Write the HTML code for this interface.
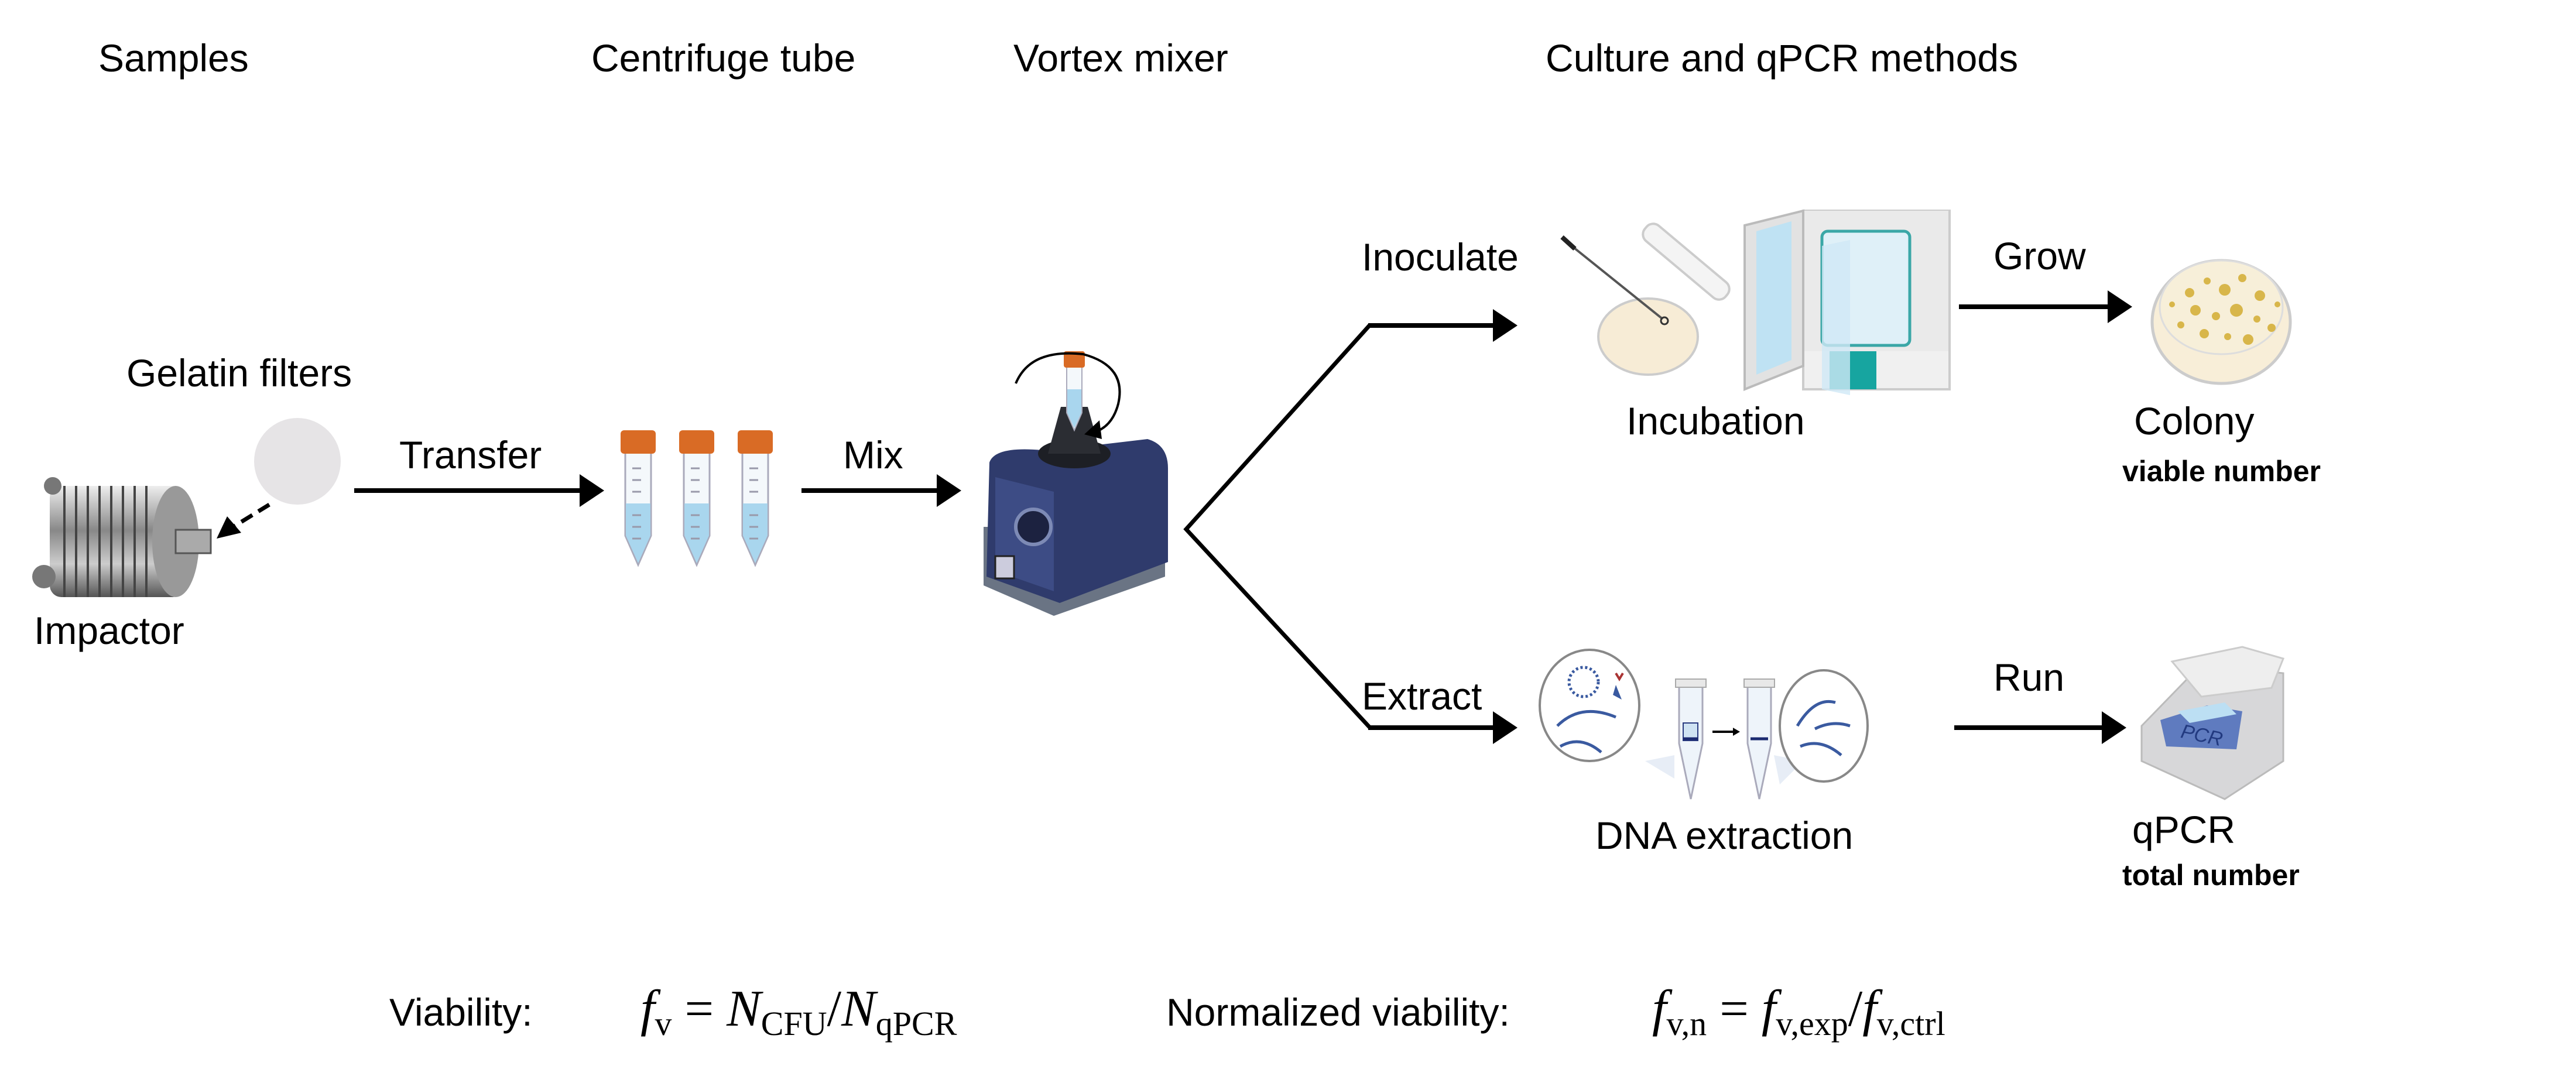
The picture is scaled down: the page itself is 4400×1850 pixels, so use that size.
<!DOCTYPE html>
<html><head><meta charset="utf-8"><style>
html,body{margin:0;padding:0;background:#fff}
svg{display:block}
text{font-family:"Liberation Sans",sans-serif;fill:#000}
.l{font-size:66px}
.b{font-size:50px;font-weight:bold}
.m{font-family:"Liberation Serif",serif;font-size:88px}
</style></head><body>
<svg width="4400" height="1850" viewBox="0 0 4400 1850" xmlns="http://www.w3.org/2000/svg">
<defs>
<linearGradient id="met" x1="0" x2="0" y1="0" y2="1"><stop offset="0" stop-color="#eee"/><stop offset=".4" stop-color="#888"/><stop offset=".7" stop-color="#ccc"/><stop offset="1" stop-color="#555"/></linearGradient>
</defs>

<text class="l" x="168" y="122">Samples</text>
<text class="l" x="1010" y="122">Centrifuge tube</text>
<text class="l" x="1731" y="122">Vortex mixer</text>
<text class="l" x="2640" y="122">Culture and qPCR methods</text>

<text class="l" x="216" y="660">Gelatin filters</text>
<circle cx="508" cy="788" r="74" fill="#e6e4e6"/>
<line x1="460" y1="862" x2="395" y2="902" stroke="#000" stroke-width="7" stroke-dasharray="22,12"/>
<polygon points="370,920 388,882 412,910" fill="#000"/>

<g>
<rect x="85" y="830" width="230" height="190" rx="20" fill="url(#met)"/>
<g stroke="#444" stroke-width="4">
<line x1="110" y1="830" x2="110" y2="1020"/><line x1="130" y1="830" x2="130" y2="1020"/><line x1="150" y1="830" x2="150" y2="1020"/><line x1="170" y1="830" x2="170" y2="1020"/><line x1="190" y1="830" x2="190" y2="1020"/><line x1="210" y1="830" x2="210" y2="1020"/><line x1="230" y1="830" x2="230" y2="1020"/><line x1="250" y1="830" x2="250" y2="1020"/>
</g>
<ellipse cx="300" cy="925" rx="40" ry="95" fill="#999"/>
<rect x="300" y="905" width="60" height="40" fill="#aaa" stroke="#555" stroke-width="3"/>
<circle cx="75" cy="985" r="20" fill="#777"/>
<circle cx="90" cy="830" r="15" fill="#777"/>
</g>
<text class="l" x="58" y="1100">Impactor</text>

<text class="l" x="682" y="800">Transfer</text>
<line x1="605" y1="838" x2="1000" y2="838" stroke="#000" stroke-width="8"/>
<polygon points="990,810 1032,838 990,866" fill="#000"/>

<g id="tube">
<path d="M1068,770 L1068,915 L1090,965 L1112,915 L1112,770 Z" fill="#f4f8fb" stroke="#aab" stroke-width="3"/>
<path d="M1069,860 L1069,915 L1090,962 L1111,915 L1111,860 Z" fill="#a9d6ee"/>
<rect x="1060" y="735" width="60" height="40" rx="6" fill="#d96b25"/>
<g stroke="#99a" stroke-width="3"><line x1="1080" y1="800" x2="1095" y2="800"/><line x1="1080" y1="820" x2="1095" y2="820"/><line x1="1080" y1="840" x2="1095" y2="840"/><line x1="1080" y1="880" x2="1095" y2="880"/><line x1="1080" y1="900" x2="1095" y2="900"/><line x1="1080" y1="920" x2="1095" y2="920"/></g>
</g>
<use href="#tube" x="100"/>
<use href="#tube" x="200"/>

<text class="l" x="1440" y="800">Mix</text>
<line x1="1369" y1="838" x2="1610" y2="838" stroke="#000" stroke-width="8"/>
<polygon points="1600,810 1642,838 1600,866" fill="#000"/>

<g>
<path d="M1680,900 L1680,1000 L1800,1052 L1990,985 L1990,900 Z" fill="#6a7484"/>
<path d="M1690,790 Q1700,760 1790,770 L1960,750 Q1995,760 1995,800 L1995,960 L1810,1030 L1685,985 Z" fill="#2f3b6c"/>
<path d="M1700,815 L1800,840 L1800,1010 L1700,975 Z" fill="#3d4c85"/>
<ellipse cx="1835" cy="775" rx="62" ry="25" fill="#1d1f25"/>
<path d="M1790,775 L1812,695 L1858,695 L1880,775 Z" fill="#2b2d33"/>
<circle cx="1765" cy="900" r="30" fill="#1c2240" stroke="#7d8ab5" stroke-width="6"/>
<rect x="1700" y="950" width="32" height="38" fill="#ccd" stroke="#222" stroke-width="3"/>
<path d="M1822,625 L1822,705 L1835,735 L1848,705 L1848,625 Z" fill="#f4f8fb" stroke="#aab" stroke-width="2"/>
<path d="M1823,665 L1823,705 L1835,731 L1847,705 L1847,665 Z" fill="#a9d6ee"/>
<rect x="1817" y="600" width="36" height="28" rx="4" fill="#d96b25"/>
<path d="M1735,655 Q1760,595 1850,605 Q1925,625 1910,690 Q1900,728 1870,738" fill="none" stroke="#000" stroke-width="4"/>
<polygon points="1852,742 1878,718 1882,750" fill="#000"/>
</g>

<polyline points="2340,555 2026,904 2340,1243" fill="none" stroke="#000" stroke-width="7"/>
<line x1="2337" y1="556" x2="2560" y2="556" stroke="#000" stroke-width="8"/>
<polygon points="2550,528 2592,556 2550,584" fill="#000"/>
<line x1="2337" y1="1243" x2="2560" y2="1243" stroke="#000" stroke-width="8"/>
<polygon points="2550,1215 2592,1243 2550,1271" fill="#000"/>
<text class="l" x="2326" y="462">Inoculate</text>
<text class="l" x="2326" y="1212">Extract</text>

<ellipse cx="2815" cy="575" rx="85" ry="65" fill="#f7ecd6" stroke="#ccc" stroke-width="4"/>
<rect x="2790" y="430" width="180" height="34" rx="15" transform="rotate(40 2880 447)" fill="#f4f4f4" stroke="#ccc" stroke-width="4"/>
<line x1="2672" y1="410" x2="2840" y2="545" stroke="#555" stroke-width="4"/>
<line x1="2668" y1="405" x2="2690" y2="425" stroke="#222" stroke-width="8"/>
<circle cx="2843" cy="548" r="6" fill="none" stroke="#333" stroke-width="3"/>

<rect x="3080" y="360" width="250" height="305" fill="#f0f0f0" stroke="#ccc" stroke-width="4"/>
<rect x="3082" y="360" width="246" height="240" fill="#eaeaea"/>
<rect x="3112" y="395" width="150" height="195" rx="10" fill="#dff0f8" stroke="#3aa7a7" stroke-width="5"/>
<rect x="3125" y="600" width="80" height="65" fill="#17a5a0"/>
<path d="M2980,385 L3080,360 L3080,625 L2980,665 Z" fill="#e2e2e2" stroke="#bbb" stroke-width="4"/>
<path d="M3000,395 L3060,378 L3060,615 L3000,640 Z" fill="#bfe2f3"/>
<path d="M3112,420 L3160,410 L3160,675 L3112,665 Z" fill="#cfe9f6" opacity=".8"/>
<text class="l" x="2778" y="742">Incubation</text>

<text class="l" x="3405" y="460">Grow</text>
<line x1="3346" y1="524" x2="3610" y2="524" stroke="#000" stroke-width="8"/>
<polygon points="3600,496 3642,524 3600,552" fill="#000"/>
<ellipse cx="3794" cy="550" rx="118" ry="105" fill="#f8eed8" stroke="#ccc" stroke-width="5"/>
<ellipse cx="3794" cy="525" rx="105" ry="80" fill="#f7efd9" stroke="#ddd" stroke-width="3"/>
<g fill="#d8b64a">
<circle cx="3740" cy="500" r="8"/><circle cx="3770" cy="480" r="6"/><circle cx="3800" cy="495" r="10"/><circle cx="3830" cy="475" r="7"/><circle cx="3860" cy="505" r="9"/><circle cx="3750" cy="530" r="9"/><circle cx="3785" cy="540" r="7"/><circle cx="3820" cy="530" r="11"/><circle cx="3855" cy="545" r="6"/><circle cx="3725" cy="555" r="6"/><circle cx="3765" cy="570" r="8"/><circle cx="3805" cy="575" r="6"/><circle cx="3840" cy="580" r="9"/><circle cx="3880" cy="560" r="7"/><circle cx="3710" cy="520" r="5"/><circle cx="3890" cy="520" r="5"/>
</g>
<text class="l" x="3645" y="742">Colony</text>
<text class="b" x="3625" y="822">viable number</text>

<ellipse cx="2715" cy="1205" rx="85" ry="95" fill="#fff" stroke="#888" stroke-width="4"/>
<circle cx="2705" cy="1165" r="25" fill="none" stroke="#3a5aa0" stroke-width="5" stroke-dasharray="4,4"/>
<path d="M2660,1240 Q2700,1200 2760,1225" fill="none" stroke="#3a5aa0" stroke-width="5"/>
<path d="M2665,1275 Q2700,1255 2735,1285" fill="none" stroke="#3a5aa0" stroke-width="5"/>
<path d="M2760,1170 l10,25 l-15,-8 z" fill="#3a5aa0"/>
<path d="M2760,1150 l6,10 l6,-10" fill="none" stroke="#a33" stroke-width="4"/>
<path d="M2810,1300 L2860,1290 L2860,1330 Z" fill="#dde6f2" opacity=".7"/>
<path d="M2868,1170 L2868,1270 L2888,1365 L2908,1270 L2908,1170 Z" fill="#eef4fa" stroke="#aab" stroke-width="3"/>
<rect x="2862" y="1160" width="52" height="14" fill="#e8e8e8" stroke="#aaa" stroke-width="2"/>
<rect x="2875" y="1235" width="25" height="30" fill="#cfe3f3" stroke="#2a3b80" stroke-width="2"/>
<line x1="2875" y1="1262" x2="2900" y2="1262" stroke="#1b2a70" stroke-width="5"/>
<line x1="2925" y1="1250" x2="2960" y2="1250" stroke="#000" stroke-width="4"/>
<polygon points="2960,1243 2972,1250 2960,1257" fill="#000"/>
<path d="M2985,1170 L2985,1270 L3005,1365 L3025,1270 L3025,1170 Z" fill="#eef4fa" stroke="#aab" stroke-width="3"/>
<rect x="2979" y="1160" width="52" height="14" fill="#e8e8e8" stroke="#aaa" stroke-width="2"/>
<line x1="2990" y1="1262" x2="3020" y2="1262" stroke="#1b2a70" stroke-width="5"/>
<path d="M3030,1290 L3080,1300 L3040,1340 Z" fill="#dde6f2" opacity=".7"/>
<ellipse cx="3115" cy="1240" rx="75" ry="95" fill="#fff" stroke="#888" stroke-width="4"/>
<path d="M3070,1240 Q3100,1190 3135,1200" fill="none" stroke="#3a5aa0" stroke-width="5"/>
<path d="M3075,1275 Q3110,1260 3145,1290" fill="none" stroke="#3a5aa0" stroke-width="5"/>
<path d="M3100,1245 Q3130,1230 3160,1240" fill="none" stroke="#3a5aa0" stroke-width="5"/>
<text class="l" x="2725" y="1450">DNA extraction</text>

<text class="l" x="3405" y="1180">Run</text>
<line x1="3338" y1="1243" x2="3600" y2="1243" stroke="#000" stroke-width="8"/>
<polygon points="3590,1215 3632,1243 3590,1271" fill="#000"/>
<g>
<path d="M3658,1240 L3760,1135 L3900,1150 L3900,1300 L3800,1365 L3658,1300 Z" fill="#d7d7d9" stroke="#bbb" stroke-width="3"/>
<path d="M3710,1130 L3830,1105 L3900,1125 L3880,1175 L3760,1190 Z" fill="#eee" stroke="#ccc" stroke-width="3"/>
<path d="M3690,1230 L3770,1205 L3830,1215 L3820,1280 L3700,1275 Z" fill="#5f7bbf"/>
<path d="M3720,1215 L3800,1200 L3820,1220 L3740,1235 Z" fill="#bcdff3"/>
<text x="3725" y="1265" style="font-size:34px;font-style:italic;fill:#223a80" transform="rotate(12 3750 1255)">PCR</text>
</g>
<text class="l" x="3642" y="1440">qPCR</text>
<text class="b" x="3625" y="1512">total number</text>

<text class="l" x="665" y="1752">Viability:</text>
<text class="m" x="1094" y="1752"><tspan font-style="italic">f</tspan><tspan font-size="58" dy="16">v</tspan><tspan dy="-16"> = </tspan><tspan font-style="italic">N</tspan><tspan font-size="58" dy="16">CFU</tspan><tspan dy="-16">/</tspan><tspan font-style="italic">N</tspan><tspan font-size="58" dy="16">qPCR</tspan></text>
<text class="l" x="1992" y="1752">Normalized viability:</text>
<text class="m" x="2822" y="1752"><tspan font-style="italic">f</tspan><tspan font-size="58" dy="16">v,n</tspan><tspan dy="-16"> = </tspan><tspan font-style="italic">f</tspan><tspan font-size="58" dy="16">v,exp</tspan><tspan dy="-16">/</tspan><tspan font-style="italic">f</tspan><tspan font-size="58" dy="16">v,ctrl</tspan></text>
</svg>
</body></html>
